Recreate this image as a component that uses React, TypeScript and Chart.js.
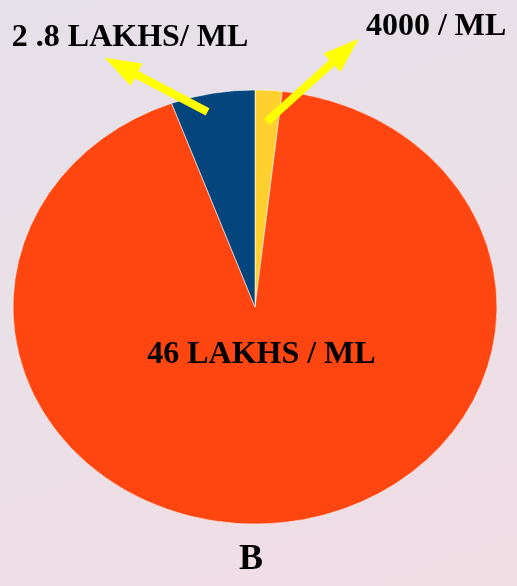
import React, { useEffect, useRef } from 'react';
import { Chart, registerables } from 'chart.js';

Chart.register(...registerables);

// ---- data (clockwise from 12 o'clock) ----
const categories = ['4000 / ML', '46 LAKHS / ML', '2 .8 LAKHS/ ML'];
const shares = [1.8, 92.6, 5.6];
const sliceColors = ['#FFD02E', '#FF4510', '#04457E'];
const caption = 'B';

// ---- styling ----
const SQUASH_Y = 0.897; // pie drawn as an ellipse
const LABEL_FONT = 'bold 32px "Liberation Serif", "Times New Roman", serif';
const CAPTION_FONT = 'bold 36px "Liberation Serif", "Times New Roman", serif';
const ARROW_COLOR = '#FFFF00';

// per slice: arrow anchored inside slice (t = position across slice angle, frac = fraction of radius),
// arrow vector, label offset from tip; or a label inside the slice
type Callout =
  | { kind: 'arrow'; t: number; frac: number; vec: [number, number]; label: [number, number] }
  | { kind: 'inside'; t: number; frac: number };
const callouts: Callout[] = [
  { kind: 'arrow', t: 0.5, frac: 0.855, vec: [92, -83], label: [77.5, -4] },
  { kind: 'inside', t: 0.5, frac: 0.223 },
  { kind: 'arrow', t: 0.39, frac: 0.92, vec: [-103, -54], label: [25.5, -11.5] },
];

const squashPlugin = {
  id: 'squash',
  beforeDatasetsDraw(chart: any) {
    const arc = chart.getDatasetMeta(0).data[0];
    const ctx = chart.ctx;
    ctx.save();
    ctx.translate(arc.x, arc.y);
    ctx.scale(1, SQUASH_Y);
    ctx.translate(-arc.x, -arc.y);
  },
  afterDatasetsDraw(chart: any) {
    chart.ctx.restore();
  },
};

function drawArrow(ctx: CanvasRenderingContext2D, x0: number, y0: number, x1: number, y1: number) {
  const dx = x1 - x0;
  const dy = y1 - y0;
  const len = Math.hypot(dx, dy);
  const ux = dx / len;
  const uy = dy / len;
  const headLen = 36;
  const headHalf = 12.5;
  const bx = x1 - ux * headLen;
  const by = y1 - uy * headLen;
  ctx.save();
  ctx.strokeStyle = ARROW_COLOR;
  ctx.fillStyle = ARROW_COLOR;
  ctx.lineWidth = 8;
  ctx.lineCap = 'butt';
  ctx.beginPath();
  ctx.moveTo(x0, y0);
  ctx.lineTo(bx + ux * 2, by + uy * 2);
  ctx.stroke();
  ctx.beginPath();
  ctx.moveTo(x1, y1);
  ctx.lineTo(bx - uy * headHalf, by + ux * headHalf);
  ctx.lineTo(bx + uy * headHalf, by - ux * headHalf);
  ctx.closePath();
  ctx.fill();
  ctx.restore();
}

const calloutPlugin = {
  id: 'callouts',
  afterDraw(chart: any) {
    const ctx: CanvasRenderingContext2D = chart.ctx;
    const arcs = chart.getDatasetMeta(0).data;
    ctx.save();
    ctx.fillStyle = '#000000';
    ctx.textAlign = 'center';
    arcs.forEach((arc: any, i: number) => {
      const c = callouts[i];
      const ang = arc.startAngle + (arc.endAngle - arc.startAngle) * c.t;
      const r = arc.outerRadius * c.frac;
      const ax = arc.x + Math.cos(ang) * r;
      const ay = arc.y + Math.sin(ang) * r * SQUASH_Y;
      ctx.font = LABEL_FONT;
      if (c.kind === 'inside') {
        ctx.textBaseline = 'middle';
        ctx.fillText(categories[i], ax, ay);
      } else {
        const tx = ax + c.vec[0];
        const ty = ay + c.vec[1];
        drawArrow(ctx, ax, ay, tx, ty);
        ctx.textBaseline = 'alphabetic';
        ctx.fillStyle = '#000000';
        ctx.fillText(categories[i], tx + c.label[0], ty + c.label[1]);
      }
    });
    const a0 = arcs[0];
    ctx.font = CAPTION_FONT;
    ctx.textBaseline = 'alphabetic';
    ctx.fillText(caption, a0.x - 4, a0.y + a0.outerRadius * SQUASH_Y + 45);
    ctx.restore();
  },
};

export default function App() {
  const canvasRef = useRef<HTMLCanvasElement | null>(null);

  useEffect(() => {
    if (!canvasRef.current) return;
    const chart = new Chart(canvasRef.current, {
      type: 'pie',
      data: {
        labels: categories,
        datasets: [
          {
            data: shares,
            backgroundColor: sliceColors,
            borderColor: 'rgba(255,255,255,0.6)',
            borderWidth: 1,
            radius: 242,
          } as any,
        ],
      },
      options: {
        responsive: false,
        animation: false,
        layout: { padding: { left: 0, right: 7, top: 28, bottom: 0 } },
        plugins: {
          legend: { display: false },
          tooltip: { enabled: false },
          title: { display: false },
        },
      },
      plugins: [squashPlugin, calloutPlugin],
    });
    return () => chart.destroy();
  }, []);

  return (
    <div
      style={{
        position: 'absolute',
        left: 0,
        top: 0,
        width: 517,
        height: 586,
        background: 'linear-gradient(160deg, #E6E0E8 0%, #EAE0E8 45%, #F2DCE4 100%)',
      }}
    >
      <canvas ref={canvasRef} width={517} height={586} style={{ display: 'block', width: 517, height: 586 }} />
    </div>
  );
}
